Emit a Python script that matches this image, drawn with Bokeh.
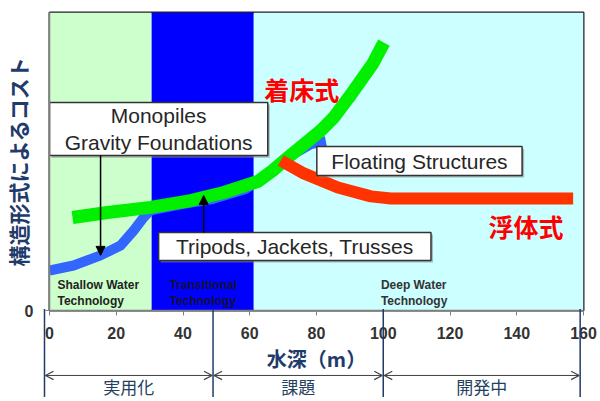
import math
from bokeh.plotting import figure
from bokeh.models import Arrow, NormalHead, FixedTicker, Range1d
from bokeh.core.properties import value
from bokeh.embed import file_html
from bokeh.resources import INLINE

# ---------------- data ----------------
depth_ticks = [0, 20, 40, 60, 80, 100, 120, 140, 160]

zone_labels = ["Shallow Water\nTechnology", "Transitional\nTechnology", "Deep Water\nTechnology"]
zone_start = [0, 30.6, 61.2]
zone_end = [30.6, 61.2, 160]

# 着床式 (fixed-bottom) cost curve
fixed_x = [6.9, 17.4, 30.3, 42.3, 52.2, 62.4, 66.9, 71.4, 76.2, 81.3, 85.2, 89.7, 96.9, 100.2]
fixed_y = [31.2, 32.9, 34.6, 36.9, 39.6, 43.3, 47.0, 51.3, 55.7, 60.4, 64.8, 71.5, 82.9, 89.9]

# shallow-water (monopile) cost curve
shallow_x = [0, 7.2, 15.3, 21.3, 25.2, 28.2, 30.3, 39.3, 48.9, 58.8, 66.3, 72.3, 78.3, 82.8]
shallow_y = [13.4, 15.1, 18.5, 21.8, 26.8, 31.2, 33.6, 35.6, 37.4, 40.8, 46.5, 52.0, 55.8, 56.8]

# 浮体式 (floating) cost curve
floating_x = [69.3, 76.2, 86.4, 96.3, 102.3, 156.9]
floating_y = [50.3, 46.0, 41.3, 38.3, 37.6, 37.6]

phase_labels = ["実用化", "課題", "開発中"]
phase_bounds = [-1.5, 49, 100, 159]

structure_labels = ["Monopiles\nGravity Foundations", "Tripods, Jackets, Trusses", "Floating Structures"]

y_title = "構造形式によるコスト"
x_title = "水深（m）"

# ---------------- figure ----------------
p = figure(width=600, height=401, x_range=Range1d(0, 160), y_range=Range1d(0, 100),
           output_backend="svg", toolbar_location=None,
           min_border_left=49, min_border_right=17, min_border_top=12, min_border_bottom=91)
p.background_fill_color = "white"
p.border_fill_color = "white"
p.outline_line_color = "#222222"
p.outline_line_width = 2
p.xgrid.visible = False
p.ygrid.visible = False

# background zones
zone_colors = ["#CCFFCC", "#0000FF", "#CCFFFF"]
p.quad(left=zone_start, right=zone_end, bottom=0, top=100, fill_color=zone_colors, line_color=None)

# zone text
zone_text_colors = ["#222222", "#111133", "#333333"]
p.text(x=[2.4, 36.0, 99.3], y=[5.9, 5.9, 5.9], text=zone_labels, text_color=zone_text_colors,
       text_font=value("Liberation Sans"), text_font_style="bold", text_font_size="12px",
       text_align="left", text_baseline="middle", text_line_height=1.1)

# curves
p.line(shallow_x, shallow_y, line_color="#3366FF", line_width=10, line_join="round")
p.line(fixed_x, fixed_y, line_color="#00F000", line_width=13, line_join="round")
p.line(floating_x, floating_y, line_color="#FF3300", line_width=12, line_join="round")

# label boxes
box_left = [0, 32.7, 80.1]
box_right = [65.4, 114.3, 141.6]
box_bottom = [52.0, 16.8, 45.3]
box_top = [69.8, 26.2, 55.0]
p.quad(left=[l + 0.6 for l in box_left], right=[r + 0.6 for r in box_right],
       bottom=[b - 0.7 for b in box_bottom], top=[t - 0.7 for t in box_top],
       fill_color="#888888", line_color=None, fill_alpha=0.6)
p.quad(left=box_left, right=box_right, bottom=box_bottom, top=box_top,
       fill_color="white", line_color="#333333", line_width=1.5)
p.text(x=[(l + r) / 2 for l, r in zip(box_left, box_right)],
       y=[(b + t) / 2 for b, t in zip(box_bottom, box_top)],
       text=structure_labels, text_color="#262626",
       text_font=value("Liberation Sans"), text_font_size="21px",
       text_align="center", text_baseline="middle", text_line_height=1.15)

# pointer arrows
p.add_layout(Arrow(end=NormalHead(size=9, fill_color="black", line_color="black"),
                   x_start=15.3, y_start=52.0, x_end=15.3, y_end=18.5, line_width=1.5))
p.add_layout(Arrow(end=NormalHead(size=9, fill_color="black", line_color="black"),
                   x_start=46.2, y_start=26.2, x_end=46.2, y_end=38.6, line_width=1.5))

# type labels
p.text(x=[75.6, 142.8], y=[74.2, 28.5], text=["着床式", "浮体式"], text_color="#FF0000",
       text_font=value("Noto Sans CJK JP"), text_font_style="bold", text_font_size="25px",
       text_align="center", text_baseline="middle")

# axes
p.xaxis.ticker = FixedTicker(ticks=depth_ticks)
p.xaxis.axis_label = x_title
p.xaxis.axis_label_text_font = "Noto Sans CJK JP"
p.xaxis.axis_label_text_font_style = "bold"
p.xaxis.axis_label_text_font_size = "20px"
p.xaxis.axis_label_text_color = "#1F3B6B"
p.xaxis.axis_label_standoff = 2
p.xaxis.major_label_text_font = "Liberation Sans"
p.xaxis.major_label_text_font_style = "bold"
p.xaxis.major_label_text_font_size = "16px"
p.xaxis.major_label_text_color = "#333333"
p.xaxis.major_label_standoff = 11
p.xaxis.major_tick_in = 0
p.xaxis.major_tick_out = 5
p.xaxis.minor_tick_line_color = None
p.xaxis.axis_line_color = "#808080"
p.xaxis.axis_line_width = 1.5
p.xaxis.major_tick_line_color = "#808080"

p.yaxis.ticker = FixedTicker(ticks=[0])
p.yaxis.major_label_text_font = "Liberation Sans"
p.yaxis.major_label_text_font_style = "bold"
p.yaxis.major_label_text_font_size = "16px"
p.yaxis.major_label_text_color = "#333333"
p.yaxis.major_label_standoff = 12
p.yaxis.major_tick_in = 0
p.yaxis.major_tick_out = 4
p.yaxis.minor_tick_line_color = None
p.yaxis.axis_line_color = "#808080"
p.yaxis.axis_line_width = 1.5
p.yaxis.major_tick_line_color = "#808080"

# y title (drawn in the left border)
p.text(x=[-9.3], y=[50], text=[y_title], angle=math.pi / 2, text_color="#1F3B6B",
       text_font=value("Noto Sans CJK JP"), text_font_style="bold", text_font_size="21px",
       text_align="center", text_baseline="middle", level="overlay")

# bottom phase annotation (below the frame)
arrow_y = -21.8
p.segment(x0=phase_bounds, x1=phase_bounds, y0=0.5, y1=-29, line_color="#1F3B6B",
          line_width=1.5, level="overlay")
starts = [a + 0.3 for a in phase_bounds[:-1]]
ends = [b - 0.3 for b in phase_bounds[1:]]
p.segment(x0=starts, x1=ends, y0=arrow_y, y1=arrow_y, line_color="#404040", line_width=1,
          level="overlay")
hx0, hx1, hy0, hy1 = [], [], [], []
for s, e in zip(starts, ends):
    for dy in (1.4, -1.4):
        hx0 += [s, e]
        hx1 += [s + 2.4, e - 2.4]
        hy0 += [arrow_y, arrow_y]
        hy1 += [arrow_y + dy, arrow_y + dy]
p.segment(x0=hx0, x1=hx1, y0=hy0, y1=hy1, line_color="#404040", line_width=1.2, level="overlay")
p.text(x=[(a + b) / 2 for a, b in zip(phase_bounds[:-1], phase_bounds[1:])],
       y=[-25.6] * 3, text=phase_labels, text_color="#243F60",
       text_font=value("Noto Sans CJK JP"), text_font_size="17px",
       text_align="center", text_baseline="middle", level="overlay")

open("out.html", "w").write(file_html(p, INLINE))
